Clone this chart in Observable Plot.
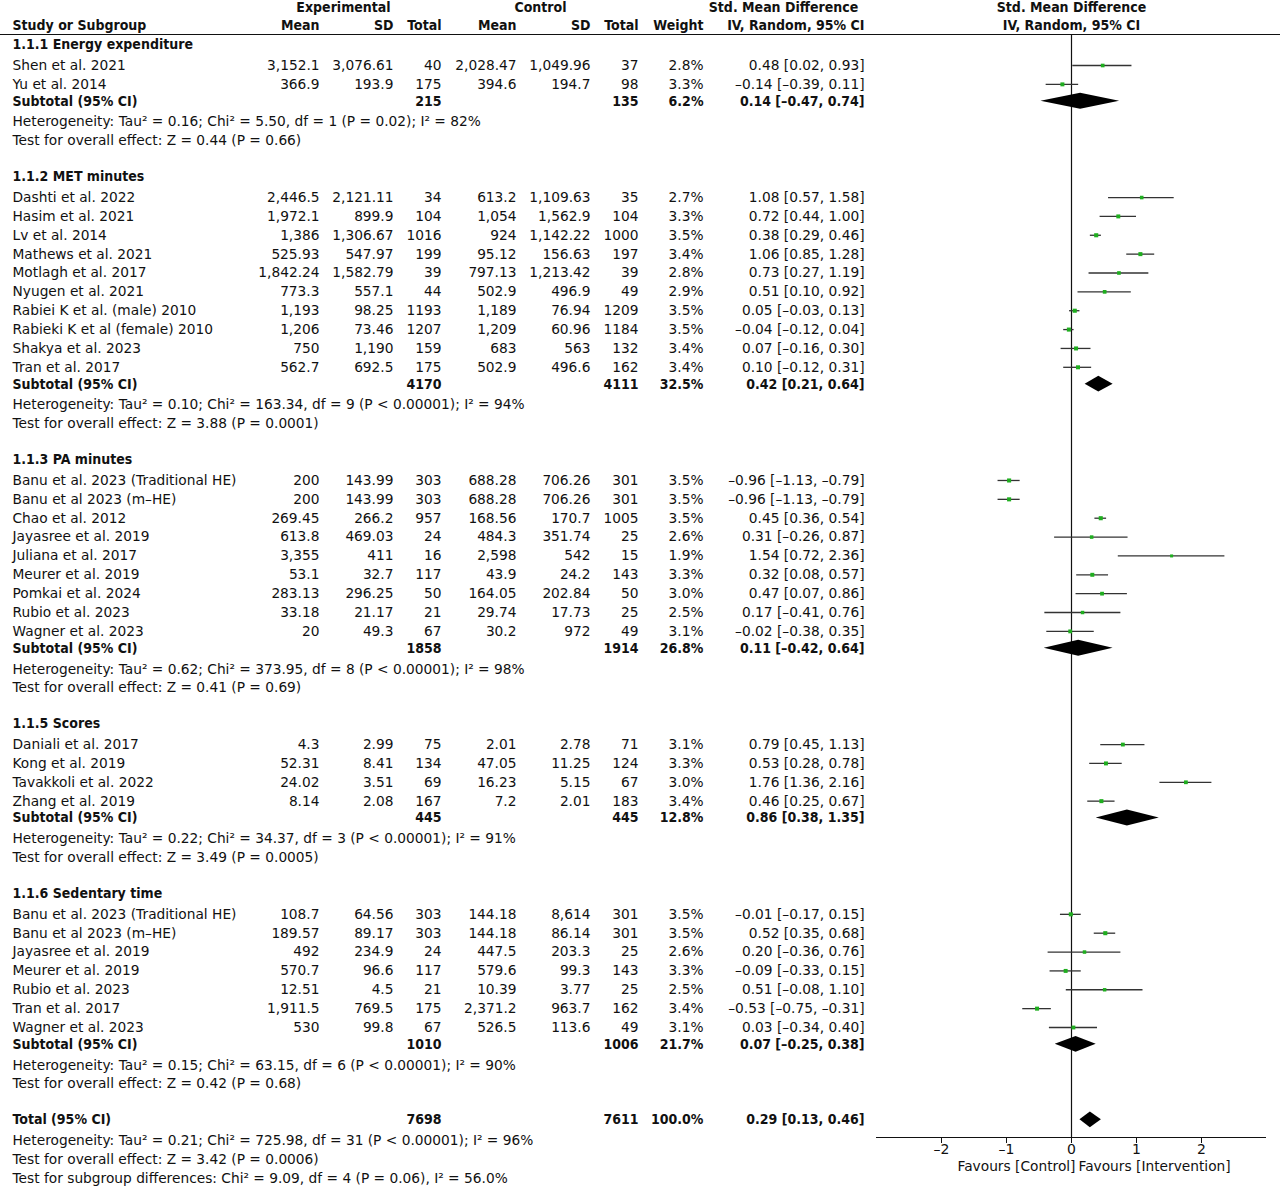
<!DOCTYPE html>
<html>
<head>
<meta charset="utf-8">
<script src="https://cdn.jsdelivr.net/npm/d3@7"></script>
<script src="https://cdn.jsdelivr.net/npm/@observablehq/plot@0.6"></script>
<style>
  html, body { margin: 0; padding: 0; background: #fff; overflow: hidden; }
  #chart svg { display: block; }
</style>
</head>
<body>
<div id="chart"></div>
<script>
// ---------------- DATA ----------------
const subgroupNames = [
  "1.1.1 Energy expenditure",
  "1.1.2 MET minutes",
  "1.1.3 PA minutes",
  "1.1.5 Scores",
  "1.1.6 Sedentary time"
];

const energyStudies = [
  {study: "Shen et al. 2021", eMean: "3,152.1", eSD: "3,076.61", eN: 40, cMean: "2,028.47", cSD: "1,049.96", cN: 37, weight: 2.8, smd: 0.48, lo: 0.02, hi: 0.93},
  {study: "Yu et al. 2014", eMean: "366.9", eSD: "193.9", eN: 175, cMean: "394.6", cSD: "194.7", cN: 98, weight: 3.3, smd: -0.14, lo: -0.39, hi: 0.11}
];

const metStudies = [
  {study: "Dashti et al. 2022", eMean: "2,446.5", eSD: "2,121.11", eN: 34, cMean: "613.2", cSD: "1,109.63", cN: 35, weight: 2.7, smd: 1.08, lo: 0.57, hi: 1.58},
  {study: "Hasim et al. 2021", eMean: "1,972.1", eSD: "899.9", eN: 104, cMean: "1,054", cSD: "1,562.9", cN: 104, weight: 3.3, smd: 0.72, lo: 0.44, hi: 1.00},
  {study: "Lv et al. 2014", eMean: "1,386", eSD: "1,306.67", eN: 1016, cMean: "924", cSD: "1,142.22", cN: 1000, weight: 3.5, smd: 0.38, lo: 0.29, hi: 0.46},
  {study: "Mathews et al. 2021", eMean: "525.93", eSD: "547.97", eN: 199, cMean: "95.12", cSD: "156.63", cN: 197, weight: 3.4, smd: 1.06, lo: 0.85, hi: 1.28},
  {study: "Motlagh et al. 2017", eMean: "1,842.24", eSD: "1,582.79", eN: 39, cMean: "797.13", cSD: "1,213.42", cN: 39, weight: 2.8, smd: 0.73, lo: 0.27, hi: 1.19},
  {study: "Nyugen et al. 2021", eMean: "773.3", eSD: "557.1", eN: 44, cMean: "502.9", cSD: "496.9", cN: 49, weight: 2.9, smd: 0.51, lo: 0.10, hi: 0.92},
  {study: "Rabiei K et al. (male) 2010", eMean: "1,193", eSD: "98.25", eN: 1193, cMean: "1,189", cSD: "76.94", cN: 1209, weight: 3.5, smd: 0.05, lo: -0.03, hi: 0.13},
  {study: "Rabieki K et al (female) 2010", eMean: "1,206", eSD: "73.46", eN: 1207, cMean: "1,209", cSD: "60.96", cN: 1184, weight: 3.5, smd: -0.04, lo: -0.12, hi: 0.04},
  {study: "Shakya et al. 2023", eMean: "750", eSD: "1,190", eN: 159, cMean: "683", cSD: "563", cN: 132, weight: 3.4, smd: 0.07, lo: -0.16, hi: 0.30},
  {study: "Tran et al. 2017", eMean: "562.7", eSD: "692.5", eN: 175, cMean: "502.9", cSD: "496.6", cN: 162, weight: 3.4, smd: 0.10, lo: -0.12, hi: 0.31}
];

const paStudies = [
  {study: "Banu et al. 2023 (Traditional HE)", eMean: "200", eSD: "143.99", eN: 303, cMean: "688.28", cSD: "706.26", cN: 301, weight: 3.5, smd: -0.96, lo: -1.13, hi: -0.79},
  {study: "Banu et al 2023 (m\u2013HE)", eMean: "200", eSD: "143.99", eN: 303, cMean: "688.28", cSD: "706.26", cN: 301, weight: 3.5, smd: -0.96, lo: -1.13, hi: -0.79},
  {study: "Chao et al. 2012", eMean: "269.45", eSD: "266.2", eN: 957, cMean: "168.56", cSD: "170.7", cN: 1005, weight: 3.5, smd: 0.45, lo: 0.36, hi: 0.54},
  {study: "Jayasree et al. 2019", eMean: "613.8", eSD: "469.03", eN: 24, cMean: "484.3", cSD: "351.74", cN: 25, weight: 2.6, smd: 0.31, lo: -0.26, hi: 0.87},
  {study: "Juliana et al. 2017", eMean: "3,355", eSD: "411", eN: 16, cMean: "2,598", cSD: "542", cN: 15, weight: 1.9, smd: 1.54, lo: 0.72, hi: 2.36},
  {study: "Meurer et al. 2019", eMean: "53.1", eSD: "32.7", eN: 117, cMean: "43.9", cSD: "24.2", cN: 143, weight: 3.3, smd: 0.32, lo: 0.08, hi: 0.57},
  {study: "Pomkai et al. 2024", eMean: "283.13", eSD: "296.25", eN: 50, cMean: "164.05", cSD: "202.84", cN: 50, weight: 3.0, smd: 0.47, lo: 0.07, hi: 0.86},
  {study: "Rubio et al. 2023", eMean: "33.18", eSD: "21.17", eN: 21, cMean: "29.74", cSD: "17.73", cN: 25, weight: 2.5, smd: 0.17, lo: -0.41, hi: 0.76},
  {study: "Wagner et al. 2023", eMean: "20", eSD: "49.3", eN: 67, cMean: "30.2", cSD: "972", cN: 49, weight: 3.1, smd: -0.02, lo: -0.38, hi: 0.35}
];

const scoreStudies = [
  {study: "Daniali et al. 2017", eMean: "4.3", eSD: "2.99", eN: 75, cMean: "2.01", cSD: "2.78", cN: 71, weight: 3.1, smd: 0.79, lo: 0.45, hi: 1.13},
  {study: "Kong et al. 2019", eMean: "52.31", eSD: "8.41", eN: 134, cMean: "47.05", cSD: "11.25", cN: 124, weight: 3.3, smd: 0.53, lo: 0.28, hi: 0.78},
  {study: "Tavakkoli et al. 2022", eMean: "24.02", eSD: "3.51", eN: 69, cMean: "16.23", cSD: "5.15", cN: 67, weight: 3.0, smd: 1.76, lo: 1.36, hi: 2.16},
  {study: "Zhang et al. 2019", eMean: "8.14", eSD: "2.08", eN: 167, cMean: "7.2", cSD: "2.01", cN: 183, weight: 3.4, smd: 0.46, lo: 0.25, hi: 0.67}
];

const sedentaryStudies = [
  {study: "Banu et al. 2023 (Traditional HE)", eMean: "108.7", eSD: "64.56", eN: 303, cMean: "144.18", cSD: "8,614", cN: 301, weight: 3.5, smd: -0.01, lo: -0.17, hi: 0.15},
  {study: "Banu et al 2023 (m\u2013HE)", eMean: "189.57", eSD: "89.17", eN: 303, cMean: "144.18", cSD: "86.14", cN: 301, weight: 3.5, smd: 0.52, lo: 0.35, hi: 0.68},
  {study: "Jayasree et al. 2019", eMean: "492", eSD: "234.9", eN: 24, cMean: "447.5", cSD: "203.3", cN: 25, weight: 2.6, smd: 0.20, lo: -0.36, hi: 0.76},
  {study: "Meurer et al. 2019", eMean: "570.7", eSD: "96.6", eN: 117, cMean: "579.6", cSD: "99.3", cN: 143, weight: 3.3, smd: -0.09, lo: -0.33, hi: 0.15},
  {study: "Rubio et al. 2023", eMean: "12.51", eSD: "4.5", eN: 21, cMean: "10.39", cSD: "3.77", cN: 25, weight: 2.5, smd: 0.51, lo: -0.08, hi: 1.10},
  {study: "Tran et al. 2017", eMean: "1,911.5", eSD: "769.5", eN: 175, cMean: "2,371.2", cSD: "963.7", cN: 162, weight: 3.4, smd: -0.53, lo: -0.75, hi: -0.31},
  {study: "Wagner et al. 2023", eMean: "530", eSD: "99.8", eN: 67, cMean: "526.5", cSD: "113.6", cN: 49, weight: 3.1, smd: 0.03, lo: -0.34, hi: 0.40}
];

const subgroupStudies = [energyStudies, metStudies, paStudies, scoreStudies, sedentaryStudies];

const subtotals = [
  {eN: 215, cN: 135, weight: 6.2, smd: 0.14, lo: -0.47, hi: 0.74},
  {eN: 4170, cN: 4111, weight: 32.5, smd: 0.42, lo: 0.21, hi: 0.64},
  {eN: 1858, cN: 1914, weight: 26.8, smd: 0.11, lo: -0.42, hi: 0.64},
  {eN: 445, cN: 445, weight: 12.8, smd: 0.86, lo: 0.38, hi: 1.35},
  {eN: 1010, cN: 1006, weight: 21.7, smd: 0.07, lo: -0.25, hi: 0.38}
];

const heterogeneityTexts = [
  "Heterogeneity: Tau\u00B2 = 0.16; Chi\u00B2 = 5.50, df = 1 (P = 0.02); I\u00B2 = 82%",
  "Heterogeneity: Tau\u00B2 = 0.10; Chi\u00B2 = 163.34, df = 9 (P < 0.00001); I\u00B2 = 94%",
  "Heterogeneity: Tau\u00B2 = 0.62; Chi\u00B2 = 373.95, df = 8 (P < 0.00001); I\u00B2 = 98%",
  "Heterogeneity: Tau\u00B2 = 0.22; Chi\u00B2 = 34.37, df = 3 (P < 0.00001); I\u00B2 = 91%",
  "Heterogeneity: Tau\u00B2 = 0.15; Chi\u00B2 = 63.15, df = 6 (P < 0.00001); I\u00B2 = 90%"
];

const overallEffectTexts = [
  "Test for overall effect: Z = 0.44 (P = 0.66)",
  "Test for overall effect: Z = 3.88 (P = 0.0001)",
  "Test for overall effect: Z = 0.41 (P = 0.69)",
  "Test for overall effect: Z = 3.49 (P = 0.0005)",
  "Test for overall effect: Z = 0.42 (P = 0.68)"
];

const total = {eN: 7698, cN: 7611, weight: 100.0, smd: 0.29, lo: 0.13, hi: 0.46};
const totalTexts = [
  "Heterogeneity: Tau\u00B2 = 0.21; Chi\u00B2 = 725.98, df = 31 (P < 0.00001); I\u00B2 = 96%",
  "Test for overall effect: Z = 3.42 (P = 0.0006)",
  "Test for subgroup differences: Chi\u00B2 = 9.09, df = 4 (P = 0.06), I\u00B2 = 56.0%"
];

const axisTicks = [-2, -1, 0, 1, 2];
const favourLabels = ["Favours [Control]", "Favours [Intervention]"];

// ---------------- LAYOUT / STYLE ----------------
const W = 1280, H = 1186;
const FONT = "DejaVu Sans", BOLD = "DejaVu Sans Condensed";
const FS = 13.75, BFS = 14;
const INK = "#111";
const GREEN = "#1fae1f";
const ROW0 = 65, ROW51 = 1027;               // pixel centres of rows 1 and 52
const rowStep = (ROW51 - ROW0) / 51;
const rowAt = px => 1 + (px - ROW0) / rowStep; // pixel -> row units (layout helper)
const headerRuleRow = rowAt(34);
const axisRow = rowAt(1137);
const DIAMOND_H = 0.42;                       // half height in rows
const BOLD_DY = -2;                           // bold rows sit slightly higher

const columns = [
  {key: "study", x: 12, anchor: "start"},
  {key: "eMean", x: 319, anchor: "end"},
  {key: "eSD", x: 393, anchor: "end"},
  {key: "eN", x: 441, anchor: "end"},
  {key: "cMean", x: 516, anchor: "end"},
  {key: "cSD", x: 590, anchor: "end"},
  {key: "cN", x: 638, anchor: "end"},
  {key: "weightText", x: 703, anchor: "end"},
  {key: "ci", x: 864, anchor: "end"}
];

// ---------------- BUILD ROWS ----------------
const fmt = v => (v < 0 ? "\u2013" : "") + Math.abs(v).toFixed(2);
const ciText = d => `${fmt(d.smd)} [${fmt(d.lo)}, ${fmt(d.hi)}]`;

const tableRows = [], studyRows = [], diamonds = [];
let r = 0;
subgroupNames.forEach((name, i) => {
  tableRows.push({row: r++, bold: true, study: name});
  subgroupStudies[i].forEach(s => {
    const rec = {...s, row: r++, bold: false, weightText: s.weight.toFixed(1) + "%", ci: ciText(s)};
    tableRows.push(rec);
    studyRows.push(rec);
  });
  const st = subtotals[i];
  const sub = {...st, row: r++, bold: true, study: "Subtotal (95% CI)", weightText: st.weight.toFixed(1) + "%", ci: ciText(st)};
  tableRows.push(sub);
  diamonds.push(sub);
  tableRows.push({row: r++, bold: false, study: heterogeneityTexts[i]});
  tableRows.push({row: r++, bold: false, study: overallEffectTexts[i]});
  r++; // blank line
});
const totRec = {...total, row: r++, bold: true, study: "Total (95% CI)", weightText: total.weight.toFixed(1) + "%", ci: ciText(total)};
tableRows.push(totRec);
diamonds.push(totRec);
totalTexts.forEach(t => tableRows.push({row: r++, bold: false, study: t}));

const diamondPts = diamonds.flatMap((d, i) => [
  {id: i, y: d.row - DIAMOND_H, x1: d.smd, x2: d.smd},
  {id: i, y: d.row, x1: d.lo, x2: d.hi},
  {id: i, y: d.row + DIAMOND_H, x1: d.smd, x2: d.smd}
]);

// ---------------- MARKS ----------------
const textMarks = [];
for (const col of columns) {
  for (const bold of [false, true]) {
    const rows = tableRows.filter(d => d.bold === bold && d[col.key] != null);
    if (!rows.length) continue;
    textMarks.push(Plot.text(rows, {
      y: "row", text: d => String(d[col.key]),
      frameAnchor: "left", dx: col.x, dy: bold ? BOLD_DY : 0, textAnchor: col.anchor,
      fontFamily: bold ? BOLD : FONT, fontWeight: bold ? "bold" : "normal",
      fontSize: bold ? BFS : FS, fill: INK
    }));
  }
}

const hdr = (label, x, px, anchor = "middle") => Plot.text([label], {
  y: () => rowAt(px), text: d => d, frameAnchor: "left", dx: x, textAnchor: anchor,
  fontFamily: BOLD, fontWeight: "bold", fontSize: BFS, fill: INK
});

const headerMarks = [
  hdr("Experimental", 343, 7),
  hdr("Control", 540, 7),
  hdr("Std. Mean Difference", 783, 7),
  hdr("Study or Subgroup", 12, 25, "start"),
  hdr("Mean", 319, 25, "end"),
  hdr("SD", 393, 25, "end"),
  hdr("Total", 441, 25, "end"),
  hdr("Mean", 516, 25, "end"),
  hdr("SD", 590, 25, "end"),
  hdr("Total", 638, 25, "end"),
  hdr("Weight", 703, 25, "end"),
  hdr("IV, Random, 95% CI", 864, 25, "end"),
  Plot.text(["Std. Mean Difference"], {x: () => 0, y: () => rowAt(7), text: d => d, fontFamily: BOLD, fontWeight: "bold", fontSize: BFS, fill: INK}),
  Plot.text(["IV, Random, 95% CI"], {x: () => 0, y: () => rowAt(25), text: d => d, fontFamily: BOLD, fontWeight: "bold", fontSize: BFS, fill: INK})
];

const chart = Plot.plot({
  width: W,
  height: H,
  marginTop: 34,
  marginBottom: H - 1137,
  marginLeft: 0,
  marginRight: 0,
  style: {fontFamily: FONT, fontSize: FS + "px", background: "#fff", color: INK},
  x: {domain: [-3, 3], range: [876, 1266]},
  y: {domain: [1, 52], range: [ROW0, ROW51], axis: null},
  r: {type: "sqrt", domain: [0, 3.5], range: [0, 2.3]},
  marks: [
    // header rule
    Plot.ruleY([headerRuleRow], {stroke: INK, strokeWidth: 1.2}),
    // line of no effect
    Plot.ruleX([0], {y1: headerRuleRow, y2: axisRow, stroke: INK, strokeWidth: 1.2}),
    // axis line
    Plot.ruleY([axisRow], {x1: -3, x2: 3, stroke: INK, strokeWidth: 1.2}),
    Plot.axisX({ticks: axisTicks, tickSize: 6, tickPadding: 1, label: null,
      tickFormat: d => (d < 0 ? "\u2013" + (-d) : String(d)), fontSize: 14, stroke: INK, fill: INK}),
    Plot.text([favourLabels[0]], {x: () => 0, y: () => rowAt(1166), text: d => d, textAnchor: "end", dx: 4, fontFamily: FONT, fontSize: FS, fill: INK}),
    Plot.text([favourLabels[1]], {x: () => 0, y: () => rowAt(1166), text: d => d, textAnchor: "start", dx: 7, fontFamily: FONT, fontSize: FS, fill: INK}),
    // study CIs + squares
    Plot.ruleY(studyRows, {y: "row", x1: "lo", x2: "hi", stroke: "#333", strokeWidth: 1.3}),
    Plot.dot(studyRows, {x: "smd", y: "row", r: "weight", symbol: "square", fill: GREEN, stroke: "none"}),
    // pooled diamonds
    Plot.areaX(diamondPts, {y: "y", x1: "x1", x2: "x2", z: "id", fill: "#000", curve: "linear", dy: BOLD_DY}),
    ...headerMarks,
    ...textMarks
  ]
});

document.getElementById("chart").appendChild(chart);
</script>
</body>
</html>
